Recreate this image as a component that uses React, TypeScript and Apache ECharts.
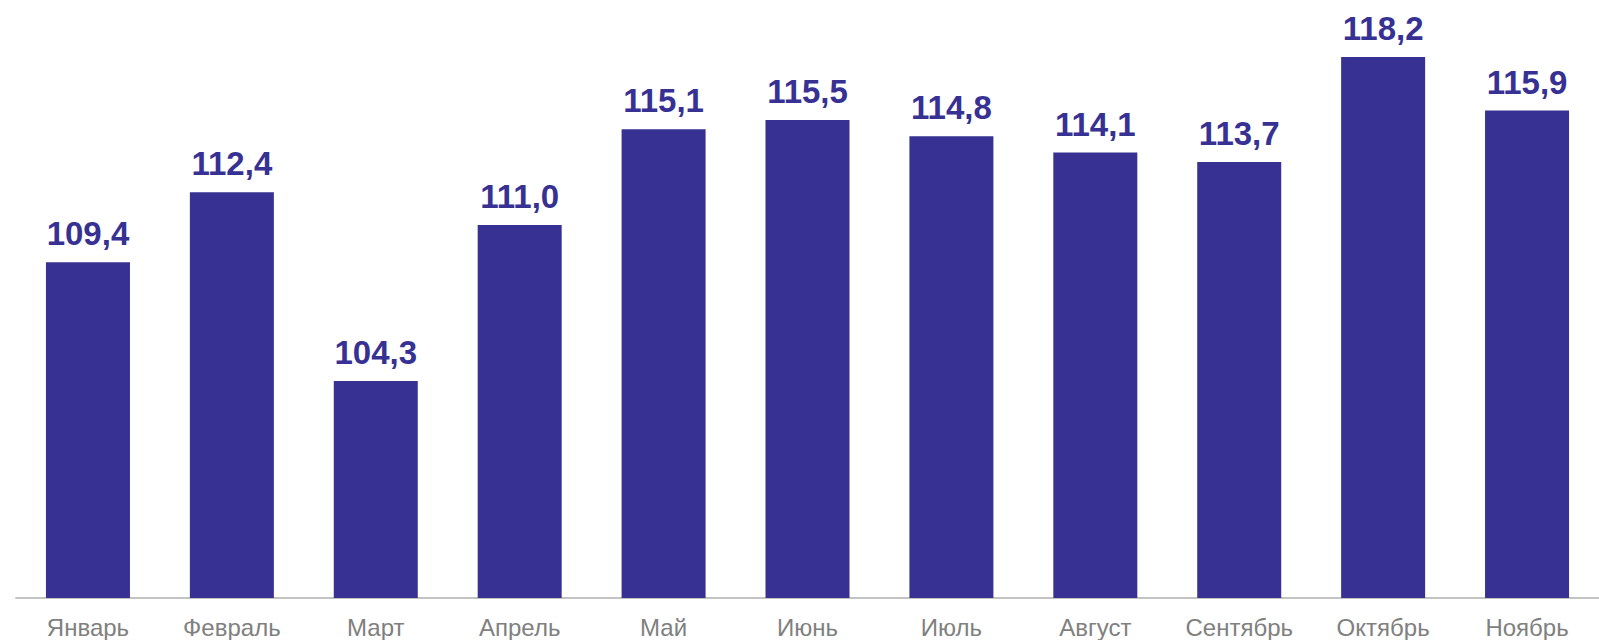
import React, { useEffect, useRef } from "react";
import * as echarts from "echarts";

const categories = ["Январь", "Февраль", "Март", "Апрель", "Май", "Июнь", "Июль", "Август", "Сентябрь", "Октябрь", "Ноябрь"];
const values = [109.4, 112.4, 104.3, 111.0, 115.1, 115.5, 114.8, 114.1, 113.7, 118.2, 115.9];
const yMin = 95;
const yMax = 120;

const BAR = "#363192";

export default function App() {
  const ref = useRef<HTMLDivElement>(null);
  useEffect(() => {
    const chart = echarts.init(ref.current!, null, { renderer: "svg" });
    chart.setOption({
      animation: false,
      backgroundColor: "#ffffff",
      grid: { left: 16, top: 15, width: 1606, height: 583, containLabel: false },
      xAxis: {
        type: "category",
        data: categories,
        axisLine: { show: true, lineStyle: { color: "#c3c3c3", width: 2 } },
        axisTick: { show: false },
        axisLabel: {
          color: "#808080",
          fontFamily: "Liberation Sans, Arial, sans-serif",
          fontSize: 24,
          lineHeight: 24,
          margin: 17,
          interval: 0,
        },
      },
      yAxis: {
        type: "value",
        min: yMin,
        max: yMax,
        show: false,
        splitLine: { show: false },
      },
      series: [
        {
          type: "bar",
          data: values,
          barWidth: 84,
          itemStyle: { color: BAR },
          label: {
            show: true,
            position: "top",
            distance: 12,
            color: BAR,
            fontFamily: "Liberation Sans, Arial, sans-serif",
            fontWeight: "bold",
            fontSize: 33,
            lineHeight: 33,
            formatter: (p: any) => Number(p.value).toFixed(1).replace(".", ","),
          },
        },
      ],
    });
    return () => chart.dispose();
  }, []);
  return (
    <div
      ref={ref}
      style={{ position: "fixed", left: 0, top: 0, width: 1599, height: 640, background: "#fff" }}
    />
  );
}
